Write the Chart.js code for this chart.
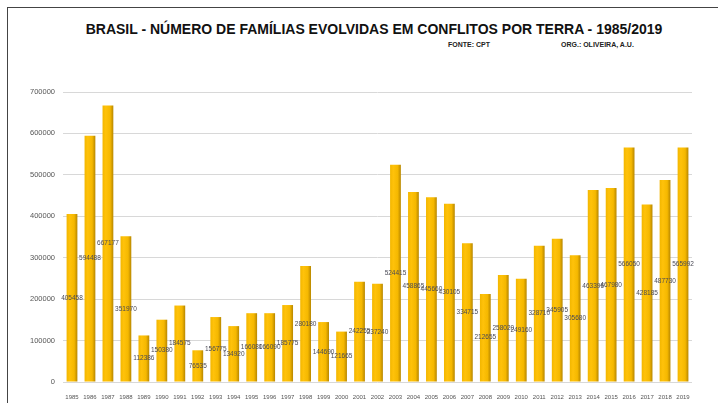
<!DOCTYPE html>
<html>
<head>
<meta charset="utf-8">
<script src="https://cdn.jsdelivr.net/npm/chart.js@4"></script>
<style>
  body { margin: 0; background: #fff; font-family: "Liberation Sans", Arial, sans-serif; }
  #wrap { position: relative; width: 718px; height: 403px; overflow: hidden; }
  #frame { position: absolute; left: 7px; top: 7px; width: 740px; height: 420px;
           border-left: 1px solid #444; border-top: 1px solid #444; }
  #title { position: absolute; left: 0; width: 748px; top: 21px; text-align: center;
           font-weight: bold; font-size: 14px; color: #111; }
  .src { position: absolute; top: 41px; font-weight: bold; font-size: 7px; color: #222; }
  canvas { position: absolute; left: 0; top: 0; }
</style>
</head>
<body>
<div id="wrap">
  <div id="frame"></div>
  <div id="title">BRASIL - NÚMERO DE FAMÍLIAS EVOLVIDAS EM CONFLITOS POR TERRA - 1985/2019</div>
  <div class="src" style="left:448px">FONTE: CPT</div>
  <div class="src" style="left:561px">ORG.: OLIVEIRA, A.U.</div>
  <canvas id="myBarChart" width="718" height="403"></canvas>
</div>
<script>
// anos e número de famílias
const years = ['1985', '1986', '1987', '1988', '1989', '1990', '1991', '1992', '1993', '1994',
    '1995', '1996', '1997', '1998', '1999', '2000', '2001', '2002', '2003', '2004',
    '2005', '2006', '2007', '2008', '2009', '2010', '2011', '2012', '2013', '2014',
    '2015', '2016', '2017', '2018', '2019'];
const families = [405458, 594488, 667177, 351970, 112386, 150380, 184575, 76535, 156775, 134920,
    166080, 166090, 185775, 280180, 144690, 121665, 242255, 237240, 524415, 458865,
    445660, 430105, 334715, 212655, 258020, 249160, 328710, 345905, 305680, 463396,
    467980, 566050, 428185, 487730, 565992];
const yTicks = [0, 100000, 200000, 300000, 400000, 500000, 600000, 700000];

// cylinder-ish gradient for each bar
function barFill(context) {
    const chart = context.chart;
    if (!chart.chartArea) return '#FFC000';
    const x = chart.scales.x.getPixelForValue(context.dataIndex);
    const g = chart.ctx.createLinearGradient(x - 5.5, 0, x + 5.5, 0);
    g.addColorStop(0, '#F2B600');
    g.addColorStop(0.3, '#FFC20A');
    g.addColorStop(0.7, '#F5B800');
    g.addColorStop(0.85, '#D59E00');
    g.addColorStop(1, '#B58600');
    return g;
}

// value labels in the middle of each bar
const midLabels = {
    id: 'midLabels',
    afterDatasetsDraw(chart) {
        const ctx = chart.ctx;
        const meta = chart.getDatasetMeta(0);
        ctx.save();
        ctx.font = '6.5px "Liberation Sans", Arial, sans-serif';
        ctx.fillStyle = '#4a4a55';
        ctx.textAlign = 'center';
        ctx.textBaseline = 'middle';
        meta.data.forEach((bar, i) => {
            const y = (bar.y + bar.base) / 2;
            ctx.fillText(String(families[i]), bar.x, y);
        });
        ctx.restore();
    }
};

const ctx = document.getElementById('myBarChart').getContext('2d');
const myBarChart = new Chart(ctx, {
    type: 'bar',
    data: {
        labels: years,
        datasets: [{
            data: families,
            backgroundColor: barFill,
            borderWidth: 0,
            barPercentage: 0.6,
            categoryPercentage: 1
        }]
    },
    options: {
        responsive: false,
        animation: false,
        layout: { padding: { top: 92, right: 26, left: 0, bottom: 0 } },
        plugins: {
            legend: { display: false },
            tooltip: { enabled: false }
        },
        scales: {
            x: {
                grid: { display: false },
                border: { display: false },
                ticks: {
                    color: '#555',
                    font: { size: 6, family: '"Liberation Sans", Arial, sans-serif' },
                    padding: 4,
                    maxRotation: 0,
                    autoSkip: false
                },
                afterFit(scale) { scale.height = 21; }
            },
            y: {
                min: 0,
                max: 700000,
                afterBuildTicks(scale) { scale.ticks = yTicks.map(v => ({ value: v })); },
                grid: { color: '#d8d8d8', lineWidth: 1, drawTicks: false },
                border: { display: false },
                ticks: {
                    color: '#555',
                    font: { size: 7.5, family: '"Liberation Sans", Arial, sans-serif' },
                    padding: 8,
                    callback: (v) => String(v)
                },
                afterFit(scale) { scale.width = 63; }
            }
        }
    },
    plugins: [midLabels]
});
</script>
</body>
</html>
